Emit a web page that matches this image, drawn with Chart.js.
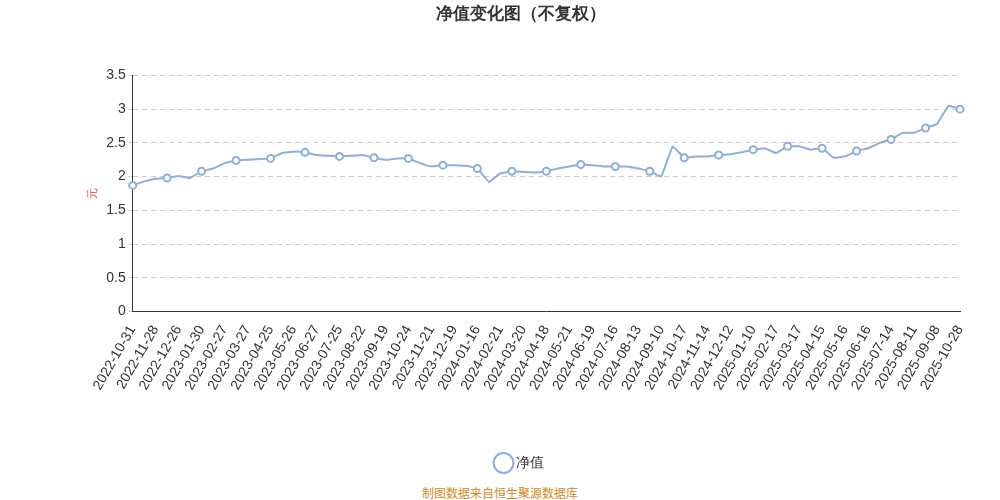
<!DOCTYPE html>
<html><head><meta charset="utf-8">
<script src="https://cdn.jsdelivr.net/npm/chart.js@4"></script>
<style>body{margin:0;background:#fff;font-family:"Noto Sans CJK SC","Noto Sans",sans-serif}
#w{position:relative;width:1000px;height:500px}
#f{position:absolute;left:0;width:1000px;top:484px;text-align:center;font-size:12px;color:#d08a1c}</style>
</head><body><div id="w"><canvas id="c" width="1000" height="480"></canvas><div id="f">制图数据来自恒生聚源数据库</div></div>
<script>
const tickDates=["2022-10-31","2022-11-28","2022-12-26","2023-01-30","2023-02-27","2023-03-27","2023-04-25","2023-05-26","2023-06-27","2023-07-25","2023-08-22","2023-09-19","2023-10-24","2023-11-21","2023-12-19","2024-01-16","2024-02-21","2024-03-20","2024-04-18","2024-05-21","2024-06-19","2024-07-16","2024-08-13","2024-09-10","2024-10-17","2024-11-14","2024-12-12","2025-01-10","2025-02-17","2025-03-17","2025-04-15","2025-05-16","2025-06-16","2025-07-14","2025-08-11","2025-09-08","2025-10-28"];
const tickValues=[1.87,1.97,2.01,2.08,2.2,2.25,2.27,2.37,2.32,2.3,2.32,2.25,2.27,2.15,2.17,2.12,2.05,2.07,2.08,2.15,2.17,2.15,2.12,2.0,2.28,2.3,2.33,2.4,2.35,2.45,2.42,2.3,2.42,2.55,2.65,2.78,3.0];
const midValues=[1.93,1.98,1.98,2.12,2.24,2.26,2.35,2.36,2.31,2.31,2.28,2.27,2.2,2.17,2.16,1.92,2.08,2.06,2.12,2.18,2.15,2.15,2.08,2.45,2.3,2.32,2.36,2.42,2.45,2.4,2.28,2.38,2.5,2.65,2.72,3.05];
const labels=[],values=[];
tickDates.forEach((d,i)=>{labels.push(d);values.push(tickValues[i]);if(i<midValues.length){labels.push("");values.push(midValues[i]);}});
new Chart(document.getElementById('c'),{type:'line',
data:{labels,datasets:[{label:'净值',data:values,borderColor:'#8eaedc',backgroundColor:'#fff',borderWidth:2,tension:0.05,
pointRadius:c=>c.index%3===0?3.5:0,pointBorderColor:'#8eaedc',pointBackgroundColor:'#fff',pointStyle:'circle'}]},
options:{responsive:false,animation:false,layout:{padding:{left:82,right:40}},
plugins:{title:{display:true,text:'净值变化图（不复权）',font:{size:17,weight:'bold'},color:'#333',padding:{top:4,bottom:51}},
legend:{position:'bottom',labels:{usePointStyle:true,pointStyle:'circle',boxWidth:10,font:{size:14},color:'#333',padding:10},onClick:null},tooltip:{enabled:false}},
scales:{x:{grid:{display:false},border:{color:'#333'},afterFit:s=>{s.height+=50;},ticks:{autoSkip:false,maxRotation:60,minRotation:60,color:'#333',font:{size:14},callback:function(v){return labels[v];}}},
y:{min:0,max:3.5,ticks:{stepSize:0.5,color:'#333',font:{size:14},callback:v=>String(v)},grid:{color:'#ccc',tickLength:4},border:{display:true,dash:[5,4],color:'#333'},
title:{display:true,text:'元',color:'#e04040',font:{size:11}}}}}});
</script></body></html>
